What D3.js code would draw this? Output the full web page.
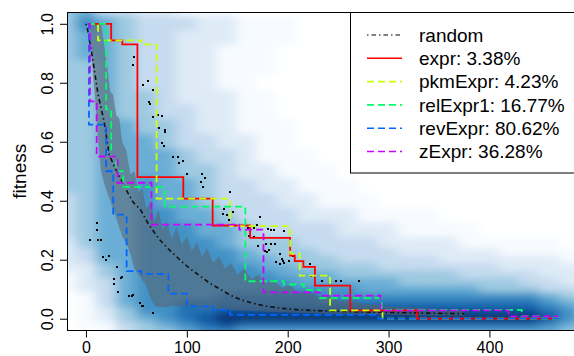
<!DOCTYPE html>
<html><head><meta charset="utf-8">
<script src="https://cdn.jsdelivr.net/npm/d3@7"></script>
<style>html,body{margin:0;padding:0;background:#fff;} svg{display:block;font-family:"Liberation Sans",Arial,Helvetica,sans-serif;}</style>
</head><body><svg id="c" width="574" height="356"></svg>
<script>
// ---------------- data ----------------
const xTicks = [0, 100, 200, 300, 400];
const yTicks = [0.0, 0.2, 0.4, 0.6, 0.8, 1.0];
const yTickLabels = ["0.0", "0.2", "0.4", "0.6", "0.8", "1.0"];
const yLabel = "fitness";

const seriesNames = ["random", "expr: 3.38%", "pkmExpr: 4.23%", "relExpr1: 16.77%", "revExpr: 80.62%", "zExpr: 36.28%"];
const seriesColors = ["#000000", "#FF0000", "#CCFF00", "#00FF66", "#0066FF", "#CC00FF"];

// random: mean curve and min/max band
const randX = [0, 2, 7, 12, 18, 23, 29, 35, 41, 47, 54, 62, 73, 83, 93, 103, 113, 123, 133, 143, 153, 166, 179, 195, 212, 232, 252, 270, 290, 320, 350, 375];
const randY = [1.0, 0.975, 0.873, 0.76, 0.669, 0.556, 0.51, 0.47, 0.43, 0.394, 0.37, 0.32, 0.268, 0.232, 0.2, 0.17, 0.145, 0.12, 0.1, 0.08, 0.065, 0.052, 0.042, 0.035, 0.03, 0.027, 0.025, 0.023, 0.022, 0.02, 0.018, 0.017];
const bandX  = [4, 6, 9, 12, 15, 18, 21, 24, 27, 30, 33, 36, 40, 44, 48, 52, 56, 60, 64, 68, 72, 76, 80, 85, 90, 95, 100, 105, 110, 115, 120, 126, 132, 138, 144, 150, 157, 164, 171, 178, 186, 194, 202, 210, 220, 230, 240, 252, 264, 276, 290, 305, 320, 340, 360, 375];
const bandHi = [1.0, 1.0, 1.0, 1.0, 1.0, 0.93, 0.86, 0.77, 0.76, 0.69, 0.68, 0.60, 0.57, 0.49, 0.50, 0.43, 0.44, 0.37, 0.40, 0.33, 0.37, 0.30, 0.33, 0.27, 0.31, 0.25, 0.28, 0.23, 0.26, 0.21, 0.24, 0.19, 0.21, 0.17, 0.19, 0.15, 0.17, 0.135, 0.15, 0.12, 0.13, 0.105, 0.115, 0.09, 0.095, 0.075, 0.08, 0.06, 0.062, 0.05, 0.048, 0.04, 0.04, 0.035, 0.033, 0.03];
const bandLo = [1.0, 0.87, 0.75, 0.6, 0.5, 0.46, 0.43, 0.4, 0.37, 0.34, 0.31, 0.28, 0.255, 0.22, 0.17, 0.15, 0.13, 0.11, 0.07, 0.045, 0.04, 0.04, 0.038, 0.045, 0.043, 0.042, 0.042, 0.04, 0.038, 0.036, 0.035, 0.033, 0.031, 0.03, 0.029, 0.028, 0.027, 0.026, 0.025, 0.024, 0.023, 0.022, 0.021, 0.02, 0.019, 0.018, 0.017, 0.016, 0.015, 0.015, 0.014, 0.013, 0.012, 0.011, 0.011, 0.01];

// step series (value holds until next x)
const exprX = [2, 25, 36, 51, 96.5, 125.6, 162.7, 202.4, 207, 215.6, 227, 262, 328, 468];
const exprY = [1.0, 0.944, 0.93, 0.48, 0.407, 0.316, 0.274, 0.214, 0.195, 0.176, 0.112, 0.028, 0.0, 0.0];
const pkmX = [2, 12, 55, 70, 143, 202.4, 212, 242, 294, 468];
const pkmY = [1.0, 0.944, 0.93, 0.407, 0.314, 0.221, 0.146, 0.028, 0.0, 0.0];
const relX = [2, 20, 25, 30, 37, 78, 158, 196, 216, 232, 293, 432, 450, 468];
const relY = [1.0, 0.71, 0.55, 0.5, 0.447, 0.38, 0.127, 0.116, 0.098, 0.07, 0.03, 0.008, 0.0, 0.0];
const revX = [2, 3, 20, 27, 40.3, 55, 81.7, 100, 126, 143, 290, 468];
const revY = [1.0, 0.658, 0.5, 0.353, 0.161, 0.152, 0.085, 0.042, 0.03, 0.013, 0.0, 0.0];
const zX = [2, 4, 10.6, 31.4, 65, 152, 176, 232, 292, 419, 468];
const zY = [1.0, 0.737, 0.55, 0.461, 0.319, 0.302, 0.089, 0.078, 0.028, 0.008, 0.008];

// scattered points
const dotX = [47.3,46.3,61.8,56.8,66.2,62.8,63.8,66.8,71.7,75.7,72.7,78.7,78.7,75.1,77.7,86.6,91.6,96.5,92.6,99.9,115.4,118.1,114.1,116.4,142.9,136.9,146.1,136.2,139.6,142.2,172.6,169.9,161,166.7,180.9,183.2,186.5,196.7,162,166.7,170.9,178.3,183.2,187.5,177.6,181.5,179.3,192.5,194.7,195.7,201.7,188.2,192.5,196.7,205.7,222.2,223.2,234.4,247.7,252.7,271.1,10.6,11.2,4.0,12.2,14.9,17.2,19.8,23.1,31.1,27.8,28.1,34.4,36,32,43,45.3,46.3,53.6,55.3,56.8,66.2];
const dotY = [0.887,0.86,0.805,0.792,0.777,0.734,0.727,0.683,0.691,0.689,0.648,0.64,0.632,0.597,0.587,0.549,0.549,0.534,0.529,0.492,0.492,0.478,0.464,0.448,0.429,0.373,0.361,0.356,0.35,0.334,0.344,0.318,0.306,0.308,0.305,0.301,0.302,0.296,0.282,0.276,0.248,0.254,0.254,0.254,0.231,0.234,0.225,0.221,0.204,0.195,0.197,0.193,0.186,0.189,0.214,0.186,0.144,0.129,0.129,0.129,0.129,0.323,0.302,0.266,0.268,0.268,0.21,0.198,0.214,0.176,0.133,0.116,0.138,0.14,0.091,0.078,0.078,0.082,0.053,0.044,0.044,0.021];

// smoothed density of all runs (levels 0..9 of the Blues ramp)
const densCols = [-20, 0, 20, 40, 60, 80, 100, 120, 140, 160, 180, 200, 220, 240, 260, 280, 300, 320, 340, 360, 380, 400, 420, 440, 460, 480, 500];
const densRows = [1.10, 1.05, 1.00, 0.95, 0.90, 0.85, 0.80, 0.75, 0.70, 0.65, 0.60, 0.55, 0.50, 0.45, 0.40, 0.35, 0.30, 0.25, 0.225, 0.20, 0.175, 0.15, 0.125, 0.10, 0.075, 0.05, 0.025, 0.00, -0.025, -0.05];
const densLevels = [
  "342211100000000000000000000",
  "453322111000000000000000000",
  "465433322111000000000000000",
  "455433222111000000000000000",
  "455433221110000000000000000",
  "445433221110000000000000000",
  "445433221100000000000000000",
  "445443222110000000000000000",
  "445443322110000000000000000",
  "445544322111000000000000000",
  "445554332211000000000000000",
  "445555433211100000000000000",
  "445555443221110000000000000",
  "445565543322111000000000000",
  "345565543332211100000000000",
  "345566554333222111100000000",
  "345566655433332221111000000",
  "245566665444333322221111100",
  "235566666544433332222211111",
  "235566666554443333322222211",
  "224566666655444433333322221",
  "124566666665554444443333222",
  "123566666666555554444443322",
  "123566666666666555555444332",
  "013566667777766666666666543",
  "013566777777777777777777654",
  "012466778888888888888888764",
  "012456789999999999999999864",
  "011345678777777777777777654",
  "001344566555555555555555543"
];
const blues = ["#FFFFFF", "#F7FBFF", "#DEEBF7", "#C6DBEF", "#9ECAE1", "#6BAED6", "#4292C6", "#2171B5", "#08519C", "#08306B"];

// ---------------- drawing ----------------
const svg = d3.select("#c");
const L = 67, R = 579, T = 12, B = 330.5;
const x = d3.scaleLinear().domain([-18.8, 488.8]).range([L, R]);
const y = d3.scaleLinear().domain([-0.04, 1.04]).range([B, T]);

const defs = svg.append("defs");
defs.append("clipPath").attr("id", "plotclip").append("rect")
  .attr("x", L).attr("y", T).attr("width", R - L).attr("height", B - T);
defs.append("filter").attr("id", "blur").attr("filterUnits", "userSpaceOnUse")
  .attr("x", -100).attr("y", -100).attr("width", 800).attr("height", 600)
  .append("feGaussianBlur").attr("stdDeviation", "6 3.5");

const plot = svg.append("g").attr("clip-path", "url(#plotclip)");

// density cells
const cells = [];
densRows.forEach((f, i) => {
  const fTop = i === 0 ? f + 0.15 : (f + densRows[i - 1]) / 2;
  const fBot = i === densRows.length - 1 ? f - 0.15 : (f + densRows[i + 1]) / 2;
  densCols.forEach((v, j) => {
    const v0 = j === 0 ? v - 60 : (v + densCols[j - 1]) / 2;
    const v1 = j === densCols.length - 1 ? v + 60 : (v + densCols[j + 1]) / 2;
    cells.push({v0, v1, fTop, fBot, lev: +densLevels[i][j]});
  });
});
plot.append("g").attr("filter", "url(#blur)")
  .selectAll("rect").data(cells).join("rect")
  .attr("x", d => x(d.v0) - 0.5).attr("width", d => x(d.v1) - x(d.v0) + 1)
  .attr("y", d => y(d.fTop) - 0.5).attr("height", d => y(d.fBot) - y(d.fTop) + 1)
  .attr("fill", d => blues[d.lev]);

// random band
const band = bandX.map((v, i) => ({v, hi: bandHi[i], lo: bandLo[i]}));
plot.append("path").datum(band)
  .attr("d", d3.area().x(d => x(d.v)).y0(d => y(d.lo)).y1(d => y(d.hi)))
  .attr("fill", "#5a6470").attr("fill-opacity", 0.55);

// random mean line
const randPts = randX.map((v, i) => [v, randY[i]]);
plot.append("path").datum(randPts)
  .attr("d", d3.line().x(d => x(d[0])).y(d => y(d[1])))
  .attr("fill", "none").attr("stroke", "#111").attr("stroke-width", 1.6)
  .attr("stroke-dasharray", "1.5,3,4.5,3");

// dots
plot.append("g").selectAll("rect").data(dotX.map((v, i) => [v, dotY[i]])).join("rect")
  .attr("x", d => Math.round(x(d[0])) - 1).attr("y", d => Math.round(y(d[1])) - 1)
  .attr("width", 2).attr("height", 2).attr("fill", "#000");

// step lines
const steps = [[exprX, exprY], [pkmX, pkmY], [relX, relY], [revX, revY], [zX, zY]];
const stepLine = d3.line().x(d => x(d[0])).y(d => y(d[1])).curve(d3.curveStepAfter);
steps.forEach((s, k) => {
  const pts = s[0].map((v, i) => [v, s[1][i]]);
  plot.append("path").datum(pts).attr("d", stepLine)
    .attr("fill", "none").attr("stroke", seriesColors[k + 1]).attr("stroke-width", 1.8)
    .attr("stroke-dasharray", k === 0 ? null : "7,4");
});

// box
svg.append("rect").attr("x", L + 0.5).attr("y", T + 0.5).attr("width", R - L).attr("height", B - T - 0.5)
  .attr("fill", "none").attr("stroke", "#000").attr("stroke-width", 1);

// axes
const xAxis = svg.append("g").attr("transform", `translate(0,${B})`)
  .call(d3.axisBottom(x).tickValues(xTicks).tickSize(7).tickPadding(4).tickFormat(d3.format("d")));
xAxis.select(".domain").remove();
xAxis.selectAll("text").attr("font-size", 16).attr("fill", "#000").attr("font-family", "Liberation Sans, Arial, sans-serif");
xAxis.selectAll("line").attr("stroke", "#000");

const yAxis = svg.append("g").attr("transform", `translate(${L},0)`)
  .call(d3.axisLeft(y).tickValues(yTicks).tickSize(7).tickFormat((d, i) => yTickLabels[i]));
yAxis.select(".domain").remove();
yAxis.selectAll("line").attr("stroke", "#000");
yAxis.selectAll("text").attr("x", null).attr("dy", null).attr("text-anchor", "middle")
  .attr("transform", "translate(-14,0) rotate(-90)")
  .attr("font-size", 16).attr("fill", "#000").attr("font-family", "Liberation Sans, Arial, sans-serif");

svg.append("text").attr("transform", `translate(26,${(T + B) / 2}) rotate(-90)`)
  .attr("text-anchor", "middle").attr("font-size", 19).attr("fill", "#000").text(yLabel);

// legend
const lg = svg.append("g");
lg.append("rect").attr("x", 350.5).attr("y", 12.5).attr("width", 300).attr("height", 160.5)
  .attr("fill", "#fff").attr("stroke", "#000").attr("stroke-width", 1);
seriesNames.forEach((name, i) => {
  const yy = 35 + i * 23.3;
  lg.append("line").attr("x1", 367).attr("x2", 402).attr("y1", yy).attr("y2", yy)
    .attr("stroke", seriesColors[i]).attr("stroke-width", i === 0 ? 1.2 : 1.6)
    .attr("stroke-dasharray", i === 0 ? "1.5,3,4.5,3" : (i === 1 ? null : "7,4"));
  lg.append("text").attr("x", 419).attr("y", yy).attr("dy", "0.35em")
    .attr("font-size", 19).attr("fill", "#000").text(name);
});
</script></body></html>
